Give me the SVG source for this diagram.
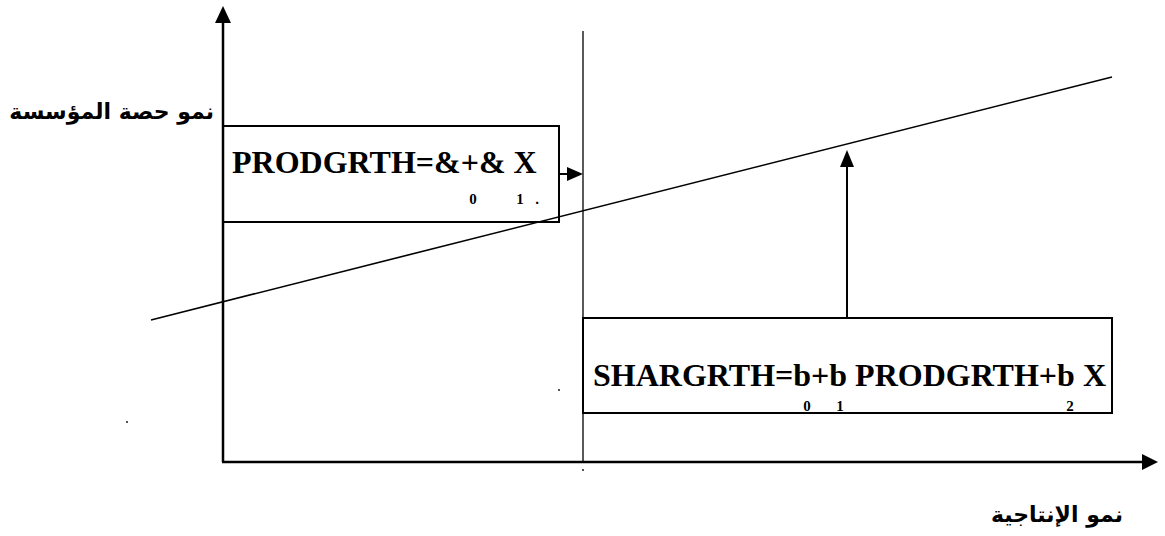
<svg xmlns="http://www.w3.org/2000/svg" width="1165" height="536" viewBox="0 0 1165 536">
<style>
.ln{stroke:#000;fill:none}
.box{stroke:#000;stroke-width:2;fill:none}
.eq{font-family:"Liberation Serif","Times New Roman",serif;font-weight:bold;font-size:32px;fill:#000}
.sub{font-family:"Liberation Serif","Times New Roman",serif;font-weight:bold;font-size:15px;fill:#000}
.ar{font-family:"DejaVu Sans","Noto Sans",sans-serif;font-weight:bold;font-size:22px;fill:#000}
.dot{fill:#000}
</style>
<g id="axes">
<line class="ln" x1="223" y1="462" x2="223" y2="22" stroke-width="2.5"/>
<path d="M215,23 L223,6 L231,23 Z" fill="#000"/>
<line class="ln" x1="222" y1="462" x2="1143" y2="462" stroke-width="2.5"/>
<path d="M1142,454 L1158,462 L1142,470 Z" fill="#000"/>
<line class="ln" x1="583" y1="31" x2="583" y2="462" stroke-width="1.3"/>
</g>
<g id="trend">
<line class="ln" x1="151" y1="320" x2="1112" y2="77" stroke-width="1.6"/>
</g>
<g id="box1">
<rect class="box" x="223" y="126" width="336" height="96"/>
<text class="eq" x="232" y="173">PRODGRTH=&amp;+&amp; X</text>
<text class="sub" x="473" y="204" text-anchor="middle">0</text>
<text class="sub" x="520" y="204" text-anchor="middle">1</text>
<text class="sub" x="537" y="204" text-anchor="middle">.</text>
</g>
<g id="box2">
<rect class="box" x="583" y="318" width="529" height="95"/>
<text class="eq" x="593" y="386">SHARGRTH=b+b PRODGRTH+b X</text>
<text class="sub" x="807" y="411" text-anchor="middle">0</text>
<text class="sub" x="840" y="411" text-anchor="middle">1</text>
<text class="sub" x="1070" y="411" text-anchor="middle">2</text>
</g>
<g id="connectors">
<line class="ln" x1="559" y1="174" x2="569" y2="174" stroke-width="2"/>
<path d="M567,167 L583,174 L567,181 Z" fill="#000"/>
<line class="ln" x1="847" y1="318" x2="847" y2="166" stroke-width="2"/>
<path d="M840,167 L847,150 L854,167 Z" fill="#000"/>
</g>
<g id="labels">
<text class="ar" x="214" y="119" text-anchor="end">نمو حصة المؤسسة</text>
<text class="ar" x="1123" y="522" text-anchor="end">نمو الإنتاجية</text>
</g>
<g id="dots">
<circle class="dot" cx="127" cy="422" r="0.9"/>
<circle class="dot" cx="559" cy="390" r="0.9"/>
<circle class="dot" cx="583" cy="470" r="0.9"/>
</g>
</svg>
